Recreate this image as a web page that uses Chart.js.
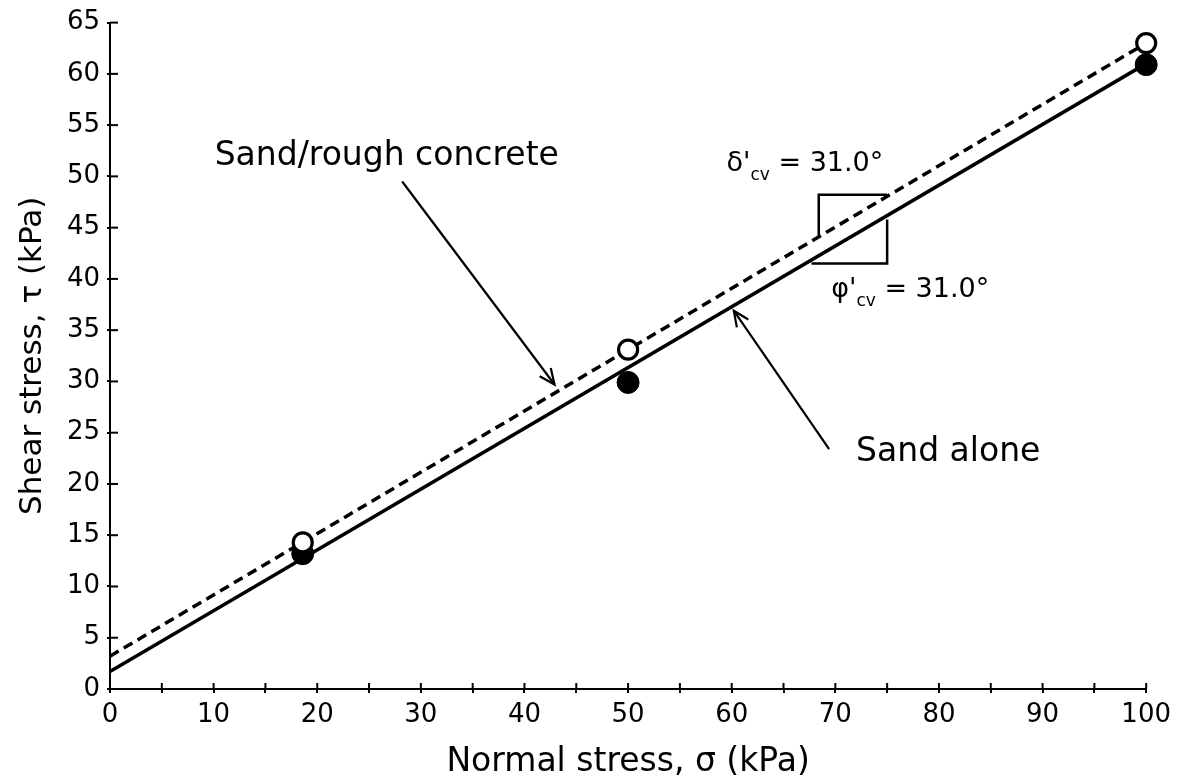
<!DOCTYPE html>
<html>
<head>
<meta charset="utf-8">
<script src="https://cdn.jsdelivr.net/npm/chart.js@4/dist/chart.umd.min.js"></script>
<style>
  html, body { margin: 0; padding: 0; background: #fff; }
  #wrap { width: 1178px; height: 782px; }
</style>
</head>
<body>
<div id="wrap"><canvas id="shearChart"></canvas></div>
<script>
// measured points (normal stress vs shear stress, kPa)
const normalStress = [18.6, 50, 100];
const sandAloneTau = [13.2, 29.9, 60.9];
const sandConcreteTau = [14.3, 33.1, 63.0];

// best-fit lines
const fitStress = [0, 100];
const sandAloneFit = [1.7, 61.0];
const sandConcreteFit = [3.2, 63.0];

// axis ranges / ticks
const xRange = [0, 100];
const yRange = [0, 65];
const xStep = 5;
const xLabelEvery = 10;
const yStep = 5;

const FONT = "'DejaVu Sans', sans-serif";

const pts = (xs, ys) => xs.map((x, i) => ({ x, y: ys[i] }));

// annotations, in data units
const notes = [
    { text: "Sand/rough concrete", x: 10.1, y: 51.1 },
    { text: "Sand alone", x: 72.0, y: 22.2 }
];
const angleNotes = [
    { sym: "\u03B4'", sub: "cv", rest: " = 31.0\u00B0", x: 59.5, y: 50.5 },
    { sym: "\u03C6'", sub: "cv", rest: " = 31.0\u00B0", x: 69.6, y: 38.2 }
];
const arrows = [
    { from: [28.2, 49.5], to: [42.9, 29.7] },
    { from: [69.4, 23.4], to: [60.2, 36.9] }
];
const slopeMarks = [
    [[68.4, 44.2], [68.4, 48.2], [75.0, 48.2]],
    [[67.7, 41.5], [75.0, 41.5], [75.0, 45.8]]
];

const extras = {
    id: "extras",
    afterDraw(chart) {
        const ctx = chart.ctx;
        const xs = chart.scales.x;
        const ys = chart.scales.y;
        const px = (v) => xs.getPixelForValue(v);
        const py = (v) => ys.getPixelForValue(v);
        const area = chart.chartArea;

        ctx.save();
        ctx.strokeStyle = "#000";
        ctx.fillStyle = "#000";

        // inner half of the crossing ticks
        ctx.lineWidth = 2;
        xs.ticks.forEach((t) => {
            const x = px(t.value);
            ctx.beginPath();
            ctx.moveTo(x, area.bottom);
            ctx.lineTo(x, area.bottom - 6);
            ctx.stroke();
        });
        ys.ticks.forEach((t) => {
            const y = py(t.value);
            ctx.beginPath();
            ctx.moveTo(area.left, y);
            ctx.lineTo(area.left + 8, y);
            ctx.stroke();
        });

        // slope boxes
        ctx.lineWidth = 2.5;
        slopeMarks.forEach((seg) => {
            ctx.beginPath();
            seg.forEach(([x, y], i) => (i ? ctx.lineTo(px(x), py(y)) : ctx.moveTo(px(x), py(y))));
            ctx.stroke();
        });

        // arrows
        arrows.forEach((a) => {
            const x1 = px(a.from[0]), y1 = py(a.from[1]);
            const x2 = px(a.to[0]), y2 = py(a.to[1]);
            ctx.lineWidth = 2.2;
            ctx.beginPath();
            ctx.moveTo(x1, y1);
            ctx.lineTo(x2, y2);
            ctx.stroke();
            const ang = Math.atan2(y2 - y1, x2 - x1);
            const len = 17, spread = 0.42;
            ctx.beginPath();
            ctx.moveTo(x2 - len * Math.cos(ang - spread), y2 - len * Math.sin(ang - spread));
            ctx.lineTo(x2, y2);
            ctx.lineTo(x2 - len * Math.cos(ang + spread), y2 - len * Math.sin(ang + spread));
            ctx.stroke();
        });

        // labels
        ctx.textBaseline = "alphabetic";
        ctx.textAlign = "left";
        ctx.font = "33px " + FONT;
        notes.forEach((n) => ctx.fillText(n.text, px(n.x), py(n.y)));

        angleNotes.forEach((n) => {
            let x = px(n.x);
            const y = py(n.y);
            ctx.font = "27px " + FONT;
            ctx.fillText(n.sym, x, y);
            x += ctx.measureText(n.sym).width;
            ctx.font = "17px " + FONT;
            ctx.fillText(n.sub, x, y + 9);
            x += ctx.measureText(n.sub).width;
            ctx.font = "27px " + FONT;
            ctx.fillText(n.rest, x, y);
        });
        ctx.restore();
    }
};

new Chart(document.getElementById("shearChart"), {
    type: "scatter",
    plugins: [extras],
    data: {
        datasets: [
            {
                type: "line",
                data: pts(fitStress, sandConcreteFit),
                borderColor: "#000",
                borderWidth: 3.5,
                borderDash: [10, 6],
                pointRadius: 0,
                order: 2
            },
            {
                type: "line",
                data: pts(fitStress, sandAloneFit),
                borderColor: "#000",
                borderWidth: 3.5,
                pointRadius: 0,
                order: 3
            },
            {
                data: pts(normalStress, sandAloneTau),
                backgroundColor: "#000",
                borderColor: "#000",
                borderWidth: 1,
                pointRadius: 11,
                clip: false,
                order: 1
            },
            {
                data: pts(normalStress, sandConcreteTau),
                backgroundColor: "#fff",
                borderColor: "#000",
                borderWidth: 3.2,
                pointRadius: 9.5,
                clip: false,
                order: 0
            }
        ]
    },
    options: {
        responsive: true,
        maintainAspectRatio: false,
        animation: false,
        layout: { padding: { left: 0, top: 18, right: 30, bottom: 0 } },
        plugins: {
            legend: { display: false },
            tooltip: { enabled: false }
        },
        scales: {
            x: {
                type: "linear",
                min: xRange[0],
                max: xRange[1],
                afterFit: (s) => { s.height = 93; },
                border: { color: "#000", width: 2 },
                grid: { drawOnChartArea: false, color: "#000", lineWidth: 2, tickLength: 4 },
                ticks: {
                    stepSize: xStep,
                    autoSkip: false,
                    maxRotation: 0,
                    padding: 7,
                    color: "#000",
                    font: { family: FONT, size: 26 },
                    callback: (v) => (v % xLabelEvery === 0 ? String(v) : "")
                },
                title: {
                    display: true,
                    text: "Normal stress, \u03C3 (kPa)",
                    color: "#000",
                    font: { family: FONT, size: 33 },
                    padding: { top: 0, bottom: 0 }
                }
            },
            y: {
                type: "linear",
                min: yRange[0],
                max: yRange[1],
                afterFit: (s) => { s.width = 110; },
                border: { color: "#000", width: 2 },
                grid: { drawOnChartArea: false, color: "#000", lineWidth: 2, tickLength: 3 },
                ticks: {
                    stepSize: yStep,
                    autoSkip: false,
                    padding: 7,
                    color: "#000",
                    font: { family: FONT, size: 26 }
                },
                title: {
                    display: true,
                    text: "Shear stress, \u03C4 (kPa)",
                    color: "#000",
                    font: { family: FONT, size: 31 },
                    padding: { top: 14, bottom: 0 }
                }
            }
        }
    }
});
</script>
</body>
</html>
